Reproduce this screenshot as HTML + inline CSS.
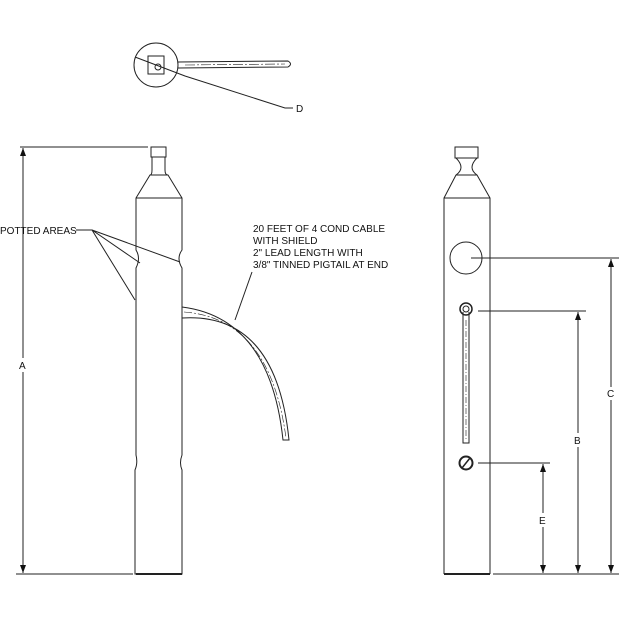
<!DOCTYPE html>
<html><head><style>body{margin:0;background:#fff}svg{display:block}text{font-family:"Liberation Sans",sans-serif;font-size:10px;fill:#111}</style></head><body>
<svg width="619" height="619" viewBox="0 0 619 619" xmlns="http://www.w3.org/2000/svg">
<defs><marker id="a" markerWidth="8" markerHeight="6" refX="8" refY="3" orient="auto-start-reverse" markerUnits="userSpaceOnUse"><path d="M0,0 L8,3 L0,6 Z" fill="#111"/></marker></defs>
<g stroke="#222" stroke-width="1" fill="none">
<!-- top view -->
<circle cx="156" cy="65" r="22"/>
<rect x="148" y="56" width="16" height="18"/>
<circle cx="158" cy="67" r="3"/>
<path d="M178,62 L288,61 Q293,64 288,67 L178,68"/>
<path d="M185,65 L285,64" stroke-dasharray="10,2,2,2" stroke-width="0.6"/>
<path d="M135,57 L185,76 L285,108 L293,108"/>
<!-- left body -->
<path d="M151,147 L166,147 L166,157 L151,157 Z"/>
<path d="M152,157 L152,170 Q152,175 150,175 L136,198 L136,250 Q141,258 136,268 L136,455 Q138,463 135,470 L135,574 L182,574 L182,470 Q179,463 182,455 L182,268 Q176,258 182,250 L182,198 L168,175 Q165,175 165,170 L165,157"/>
<path d="M150,175 L168,175 M136,198 L182,198"/>
<path d="M136,574 L182,574" stroke-width="2"/>
<!-- cable -->
<path d="M182,307 Q270,318 283,440 L289,440 Q276,312 182,318"/>
<path d="M184,312 Q270,318 286,438" stroke-dasharray="8,2,2,2" stroke-width="0.6"/>
<!-- leaders -->
<path d="M76,230 L92,230 L140,263 M92,230 L180,262 M92,230 L135,300"/>
<path d="M235,320 L252,272"/>
<!-- dimension A -->
<path d="M20,147 L148,147 M16,574 L133,574"/>
<path d="M23,148 L23,358 M23,372 L23,573" marker-start="url(#a)" marker-end="url(#a)"/>
<!-- right body -->
<path d="M455,147 L478,147 L478,158 L455,158 Z"/>
<path d="M456,158 Q466,168 456,175 L444,198 L444,574 M477,158 Q467,168 477,175 L490,198 L490,574"/>
<path d="M456,175 L477,175 M444,198 L490,198"/>
<path d="M444,574 L490,574" stroke-width="2"/>
<circle cx="466" cy="258" r="16"/>
<circle cx="466" cy="309" r="6" stroke-width="1.5"/>
<circle cx="466" cy="309" r="3"/>
<path d="M463,312 L463,443 L469,443 L469,312"/>
<path d="M466,320 L466,440" stroke-dasharray="6,2,1,2" stroke-width="0.6"/>
<circle cx="466" cy="463" r="6.5" stroke-width="2"/>
<path d="M462,468 L470,458" stroke-width="1.5"/>
<path d="M471,258 L619,258 M478,311 L586,311 M478,463 L550,463 M493,574 L619,574"/>
<path d="M611,259 L611,387 M611,400 L611,573" marker-start="url(#a)" marker-end="url(#a)"/>
<path d="M578,312 L578,433 M578,447 L578,573" marker-start="url(#a)" marker-end="url(#a)"/>
<path d="M543,464 L543,513 M543,527 L543,573" marker-start="url(#a)" marker-end="url(#a)"/>
</g>
<text x="296" y="112">D</text>
<text x="19" y="369">A</text>
<text x="607" y="397">C</text>
<text x="574" y="444">B</text>
<text x="539" y="524">E</text>
<text x="0" y="234">POTTED AREAS</text>
<text x="253" y="232">20 FEET OF 4 COND CABLE</text>
<text x="253" y="244">WITH SHIELD</text>
<text x="253" y="256">2" LEAD LENGTH WITH</text>
<text x="253" y="268">3/8" TINNED PIGTAIL AT END</text>
</svg>
</body></html>
